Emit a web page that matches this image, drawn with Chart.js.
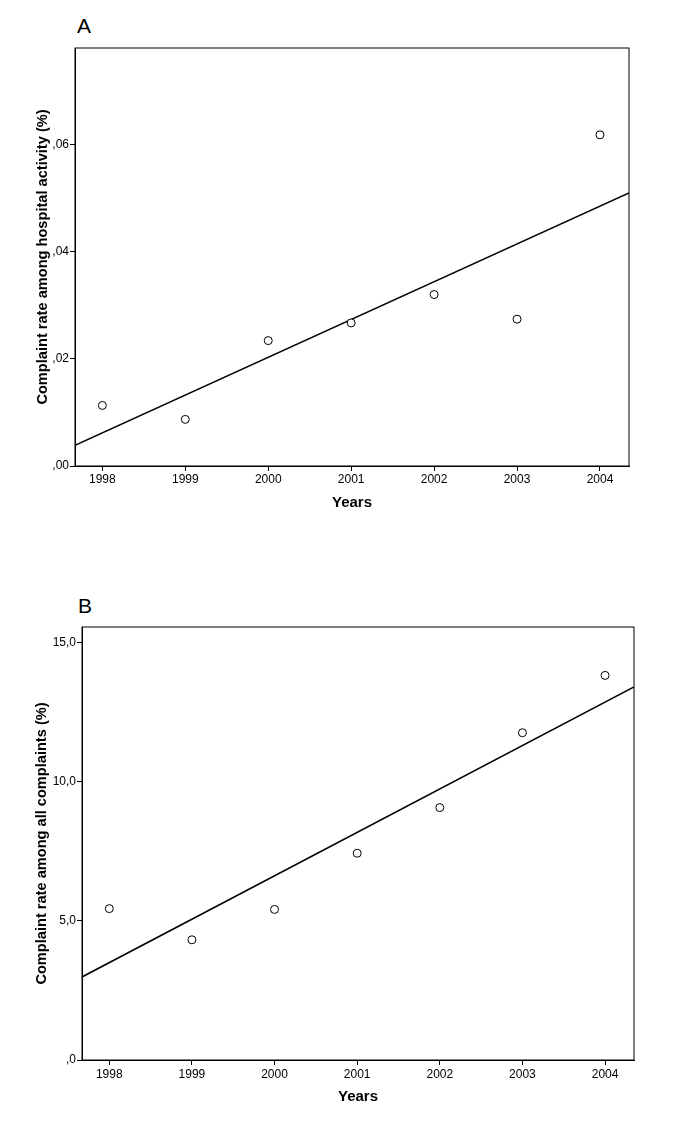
<!DOCTYPE html>
<html lang="en">
<head>
    <meta charset="UTF-8">
    <title>Complaint rates 1998-2004</title>
    <script src="https://cdn.jsdelivr.net/npm/chart.js"></script>
    <style>
        body {
            margin: 0;
            background: #fff;
            font-family: "Liberation Sans", Arial, sans-serif;
        }

        .panel {
            position: absolute;
            left: 0;
            width: 685px;
        }

        .letter {
            position: absolute;
            font-size: 21px;
            color: #000;
        }
    </style>
</head>
<body>
    <div class="letter" style="left:77px; top:14px;">A</div>
    <div class="panel" style="top:0; height:560px;">
        <canvas id="chartA"></canvas>
    </div>

    <div class="letter" style="left:78px; top:594px;">B</div>
    <div class="panel" style="top:560px; height:568px;">
        <canvas id="chartB"></canvas>
    </div>

    <script>
        // data
        const years = [1998, 1999, 2000, 2001, 2002, 2003, 2004];
        const rateHospital = [0.0113, 0.0087, 0.0234, 0.0267, 0.0320, 0.0274, 0.0618];
        const rateComplaints = [5.44, 4.32, 5.41, 7.43, 9.07, 11.76, 13.82];

        const yTicksA = [0, 0.02, 0.04, 0.06];
        const yLabelsA = [',00', ',02', ',04', ',06'];
        const yTicksB = [0, 5, 10, 15];
        const yLabelsB = [',0', '5,0', '10,0', '15,0'];

        const xMin = 1997.67, xMax = 2004.35;

        // least squares line through the points
        function fitLine(xs, ys) {
            const n = xs.length;
            const mx = xs.reduce((a, b) => a + b, 0) / n;
            const my = ys.reduce((a, b) => a + b, 0) / n;
            let sxy = 0, sxx = 0;
            for (let i = 0; i < n; i++) {
                sxy += (xs[i] - mx) * (ys[i] - my);
                sxx += (xs[i] - mx) * (xs[i] - mx);
            }
            const b = sxy / sxx;
            const a = my - b * mx;
            return [{ x: xMin, y: a + b * xMin }, { x: xMax, y: a + b * xMax }];
        }

        const boxPlugin = {
            id: 'box',
            afterDraw(chart) {
                const { ctx, chartArea: a } = chart;
                ctx.save();
                ctx.strokeStyle = '#000';
                ctx.lineWidth = 1;
                ctx.strokeRect(a.left, a.top, a.right - a.left, a.bottom - a.top);
                ctx.restore();
            }
        };

        const tickFont = { family: '"Liberation Sans", Arial, sans-serif', size: 12 };
        const titleFont = { family: '"Liberation Sans", Arial, sans-serif', size: 14.6, weight: 'bold' };

        function makeChart(id, values, yTicks, yLabels, yMax, yTitle, lay) {
            return new Chart(document.getElementById(id), {
                type: 'scatter',
                data: {
                    datasets: [{
                        data: years.map((y, i) => ({ x: y, y: values[i] })),
                        pointRadius: 4,
                        pointBorderWidth: 1,
                        pointBackgroundColor: '#fff',
                        pointBorderColor: '#000'
                    }, {
                        data: fitLine(years, values),
                        showLine: true,
                        borderColor: '#000',
                        borderWidth: 1.5,
                        pointRadius: 0
                    }]
                },
                options: {
                    responsive: true,
                    maintainAspectRatio: false,
                    animation: false,
                    events: [],
                    layout: {
                        padding: { left: lay.left, top: lay.top, right: lay.right, bottom: lay.bottom }
                    },
                    plugins: {
                        legend: { display: false },
                        tooltip: { enabled: false }
                    },
                    scales: {
                        x: {
                            type: 'linear',
                            min: xMin,
                            max: xMax,
                            afterBuildTicks: s => { s.ticks = years.map(v => ({ value: v })); },
                            afterFit: s => { s.height = 50; },
                            ticks: {
                                color: '#000',
                                font: tickFont,
                                padding: lay.xPad,
                                maxRotation: 0,
                                autoSkip: false,
                                callback: v => String(v)
                            },
                            grid: { drawOnChartArea: false, drawTicks: true, tickLength: 5, color: '#000' },
                            border: { color: '#000' },
                            title: {
                                display: true,
                                text: 'Years',
                                color: '#000',
                                font: { family: titleFont.family, size: 15, weight: 'bold' },
                                padding: { top: 4, bottom: 4 }
                            }
                        },
                        y: {
                            min: 0,
                            max: yMax,
                            afterBuildTicks: s => { s.ticks = yTicks.map(v => ({ value: v })); },
                            afterFit: s => { s.width = lay.yWidth; },
                            ticks: {
                                color: '#000',
                                font: tickFont,
                                padding: 1,
                                autoSkip: false,
                                callback: (v, i) => yLabels[i]
                            },
                            grid: { drawOnChartArea: false, drawTicks: true, tickLength: 5, color: '#000' },
                            border: { color: '#000' },
                            title: {
                                display: true,
                                text: yTitle,
                                color: '#000',
                                font: titleFont,
                                padding: { top: 4, bottom: 4 }
                            }
                        }
                    }
                },
                plugins: [boxPlugin]
            });
        }

        makeChart('chartA', rateHospital, yTicksA, yLabelsA, 0.078,
            'Complaint rate among hospital activity (%)',
            { left: 30, top: 48, right: 56, bottom: 44, yWidth: 45, xPad: 1 });

        makeChart('chartB', rateComplaints, yTicksB, yLabelsB, 15.56,
            'Complaint rate among all complaints (%)',
            { left: 29, top: 67, right: 51, bottom: 18, yWidth: 53, xPad: 2 });
    </script>
</body>
</html>
